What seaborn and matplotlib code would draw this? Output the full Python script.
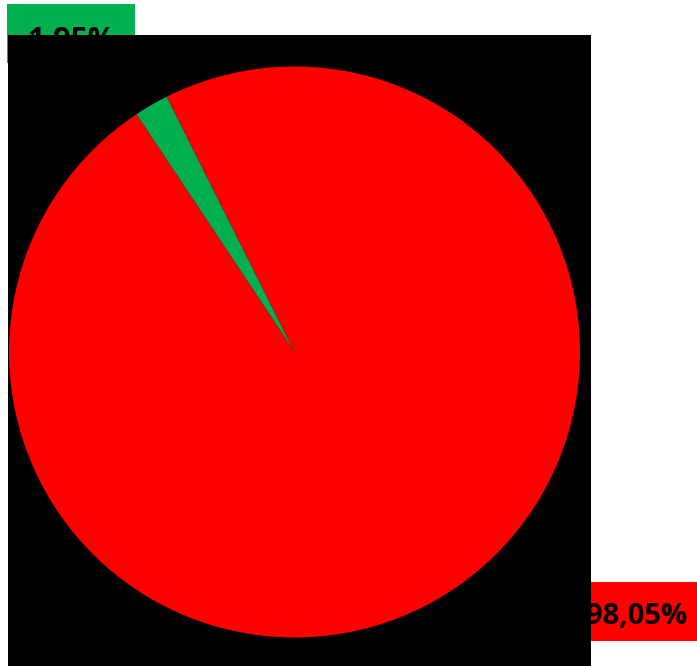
import matplotlib
matplotlib.use("Agg")
import matplotlib.pyplot as plt
from matplotlib.patches import Rectangle
import seaborn as sns

sns.set_style("white")
plt.rcParams['font.family'] = ['Open Sans', 'DejaVu Sans']

values = [1.95, 98.05]
slice_colors = ['#00B050', '#FF0000']
label_texts = [f"{v:.2f}".replace('.', ',') + '%' for v in values]

W, H = 697, 666
fig = plt.figure(figsize=(W / 100, H / 100), dpi=100)

# plot area (black) in pixel terms
left_px, right_px, top_px = 8, 591, 35
ax = fig.add_axes([left_px / W, 0, (right_px - left_px) / W, (H - top_px) / H])
ax.pie(values, colors=slice_colors, startangle=116.6, counterclock=True,
       wedgeprops=dict(linewidth=0))

cx, cy, r = 294.5, 352, 285.5
ax.set_xlim(-(cx - left_px) / r, (right_px - cx) / r)
ax.set_ylim(-(H - cy) / r, (cy - top_px) / r)
ax.set_aspect('auto')
ax.set_frame_on(True)
ax.set_facecolor('black')
ax.set_xticks([])
ax.set_yticks([])
for s in ax.spines.values():
    s.set_visible(False)


def px_box(x0, y0, x1, y1, color):
    # label background, given in pixels from the top-left corner
    fig.add_artist(Rectangle((x0 / W, 1 - y1 / H), (x1 - x0) / W, (y1 - y0) / H,
                             transform=fig.transFigure, fc=color, ec='none', zorder=-2))


# data labels, drawn behind the plot area
px_box(7, 4, 135, 63, slice_colors[0])
fig.text(71 / W, 1 - 49 / H, label_texts[0], ha='center', va='baseline',
         fontsize=22, fontweight='bold', color='black', zorder=-1)
px_box(560, 582, 697, 641, slice_colors[1])
fig.text(687 / W, 1 - 624 / H, label_texts[1], ha='right', va='baseline',
         fontsize=21, fontweight='bold', color='black', zorder=-1)

fig.savefig('out.png', dpi=100, facecolor='white')
